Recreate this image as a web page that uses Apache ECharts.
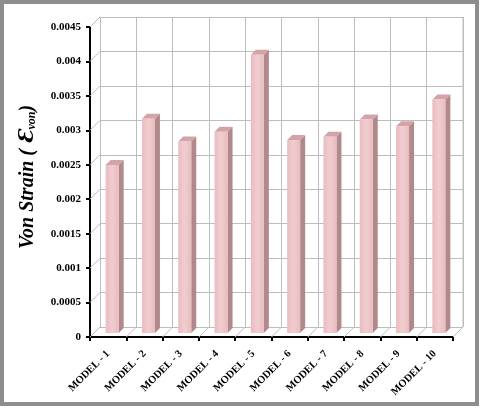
<!DOCTYPE html>
<html>
<head>
<meta charset="utf-8">
<script src="https://cdn.jsdelivr.net/npm/echarts@6/dist/echarts.min.js"></script>
<style>
  html, body { margin: 0; padding: 0; background: #fff; }
  #main { width: 480px; height: 408px; }
</style>
</head>
<body>
<div id="main"></div>
<script>
var categories = ['MODEL - 1', 'MODEL - 2', 'MODEL - 3', 'MODEL - 4', 'MODEL - 5',
                  'MODEL - 6', 'MODEL - 7', 'MODEL - 8', 'MODEL - 9', 'MODEL - 10'];
var strainValues = [0.00244, 0.00311, 0.00278, 0.00292, 0.00404,
                    0.0028, 0.00285, 0.0031, 0.003, 0.00339];
var yTicks = [0, 0.0005, 0.001, 0.0015, 0.002, 0.0025, 0.003, 0.0035, 0.004, 0.0045];

var DEPTH = 10;      // wall depth offset in px
var BAR_OFF = 4;     // bar front face offset into depth
var BAR_DEPTH = 5;
var BAR_W = 13;
var gridColor = '#bdbdbd';

var myChart = echarts.init(document.getElementById('main'));

var option = {
  backgroundColor: '#fff',
  animation: false,
  graphic: [{
    type: 'rect',
    shape: { x: 2, y: 2, width: 475, height: 402 },
    style: { fill: 'none', stroke: '#8e8e8e', lineWidth: 4 },
    z: 100
  }],
  grid: [
    { left: 90, right: 27, top: 27, bottom: 71 },
    { left: 90 + DEPTH, right: 27 - DEPTH, top: 27 - DEPTH, bottom: 71 + DEPTH }
  ],
  xAxis: [{
    type: 'category',
    gridIndex: 0,
    data: categories,
    axisLine: { lineStyle: { color: '#000', width: 2 } },
    axisTick: { show: true, length: 4, lineStyle: { color: '#000', width: 2 } },
    axisLabel: {
      rotate: 45,
      interval: 0,
      fontFamily: 'Liberation Serif',
      fontWeight: 'bold',
      fontSize: 10.5,
      color: '#000',
      margin: 15
    },
    splitLine: { show: false }
  }, {
    type: 'category',
    gridIndex: 1,
    data: categories,
    axisLine: { show: false },
    axisTick: { show: false },
    axisLabel: { show: false },
    splitLine: { show: true, interval: 0, lineStyle: { color: gridColor, width: 1 } }
  }],
  yAxis: [{
    type: 'value',
    gridIndex: 0,
    min: 0,
    max: 0.0045,
    interval: 0.0005,
    name: '{t|Von Strain ( }{e|Ɛ}{s|von}{t|)}',
    nameLocation: 'middle',
    nameGap: 52,
    nameRotate: 90,
    nameTextStyle: {
      padding: [0, 0, 0, 10],
      rich: {
        t: { fontFamily: 'Liberation Serif', fontStyle: 'italic', fontWeight: 'bold', fontSize: 20, color: '#000' },
        e: { fontFamily: 'DejaVu Serif', fontStyle: 'italic', fontWeight: 'bold', fontSize: 20, color: '#000' },
        s: { fontFamily: 'Liberation Serif', fontStyle: 'italic', fontWeight: 'bold', fontSize: 12, color: '#000', padding: [9, 0, 0, 0] }
      }
    },
    axisLine: { show: true, lineStyle: { color: '#000', width: 2 } },
    axisTick: { show: true, length: 4, lineStyle: { color: '#000', width: 2 } },
    axisLabel: {
      fontFamily: 'Liberation Serif',
      fontWeight: 'bold',
      fontSize: 11,
      color: '#000',
      margin: 9,
      formatter: function (v) { return String(parseFloat(v.toFixed(4))); }
    },
    splitLine: { show: false }
  }, {
    type: 'value',
    gridIndex: 1,
    min: 0,
    max: 0.0045,
    interval: 0.0005,
    axisLine: { show: true, lineStyle: { color: gridColor, width: 1 } },
    axisTick: { show: false },
    axisLabel: { show: false },
    splitLine: { show: true, lineStyle: { color: gridColor, width: 1 } }
  }],
  series: [
    {
      // left wall diagonals at each y tick
      type: 'custom',
      xAxisIndex: 0,
      yAxisIndex: 0,
      silent: true,
      z: 1,
      data: yTicks.map(function (v) { return [0, v]; }),
      renderItem: function (params, api) {
        var p = api.coord([0, api.value(1)]);
        var bw = api.size([1, 0])[0];
        var x = p[0] - bw / 2;
        return {
          type: 'line',
          shape: { x1: x, y1: p[1], x2: x + DEPTH, y2: p[1] - DEPTH },
          style: { stroke: gridColor, lineWidth: 1 }
        };
      }
    },
    {
      // floor diagonals at each category boundary
      type: 'custom',
      xAxisIndex: 0,
      yAxisIndex: 0,
      silent: true,
      z: 1,
      data: categories.map(function (c, i) { return [i, 0]; }).concat([[10, 0]]),
      renderItem: function (params, api) {
        var i = api.value(0);
        var k = Math.min(i, categories.length - 1);
        var p = api.coord([k, 0]);
        var bw = api.size([1, 0])[0];
        var x = p[0] + (i - k - 0.5) * bw;
        var children = [{
          type: 'line',
          shape: { x1: x, y1: p[1], x2: x + DEPTH, y2: p[1] - DEPTH },
          style: { stroke: gridColor, lineWidth: 1 }
        }];
        if (i === categories.length) {
          children.push({
            type: 'line',
            shape: { x1: x + DEPTH, y1: p[1] - DEPTH, x2: x + DEPTH, y2: api.coord([k, 0.0045])[1] - DEPTH },
            style: { stroke: gridColor, lineWidth: 1 }
          });
        }
        return { type: 'group', children: children };
      }
    },
    {
      name: 'Von Strain',
      type: 'custom',
      xAxisIndex: 0,
      yAxisIndex: 0,
      z: 5,
      data: strainValues.map(function (v, i) { return [i, v]; }),
      renderItem: function (params, api) {
        var base = api.coord([api.value(0), 0]);
        var top = api.coord([api.value(0), api.value(1)]);
        var x0 = base[0] + BAR_OFF - BAR_W / 2;
        var x1 = x0 + BAR_W;
        var yb = base[1] - BAR_OFF;
        var yt = top[1] - BAR_OFF;
        var d = BAR_DEPTH;
        return {
          type: 'group',
          children: [
            {
              type: 'polygon',
              shape: { points: [[x1, yb], [x1 + d, yb - d], [x1 + d, yt - d], [x1, yt]] },
              style: { fill: '#b2898b' }
            },
            {
              type: 'polygon',
              shape: { points: [[x0, yt], [x1, yt], [x1 + d, yt - d], [x0 + d, yt - d]] },
              style: { fill: '#d3a4a7' }
            },
            {
              type: 'rect',
              shape: { x: x0, y: yt, width: BAR_W, height: yb - yt },
              style: {
                fill: new echarts.graphic.LinearGradient(0, 0, 1, 0, [
                  { offset: 0, color: '#e9bcc0' },
                  { offset: 0.5, color: '#f1cdd0' },
                  { offset: 1, color: '#e8bcbf' }
                ])
              }
            }
          ]
        };
      }
    }
  ]
};

option && myChart.setOption(option);
</script>
</body>
</html>
